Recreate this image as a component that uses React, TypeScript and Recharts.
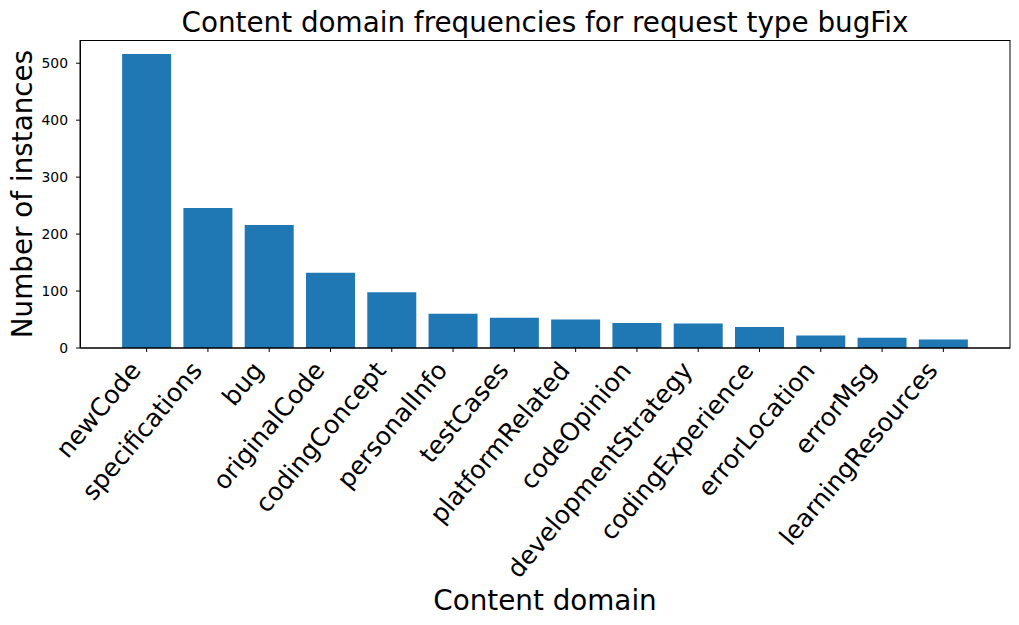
import React from 'react';
import { BarChart, Bar, XAxis, YAxis } from 'recharts';

const categories = [
  'newCode', 'specifications', 'bug', 'originalCode', 'codingConcept', 'personalInfo', 'testCases',
  'platformRelated', 'codeOpinion', 'developmentStrategy', 'codingExperience', 'errorLocation',
  'errorMsg', 'learningResources',
];
const counts = [516, 246, 216, 132, 98, 60, 53, 50, 44, 43, 37, 22, 18, 15];
const yTicks = [0, 100, 200, 300, 400, 500];

const data = categories.map((name, i) => ({ name, value: counts[i] }));

const FONT = '"DejaVu Sans", sans-serif';
const BLUE = '#1f77b4';

// plot box (matches margins below)
const PLOT = { x: 80, y: 40, w: 930, h: 308 };

// rotated tick label, right edge aligned to the tick like matplotlib ha='right'
const XTick = (props: any) => {
  const { x, y, payload } = props;
  const bx = x - 4.5;
  const by = y + 17;
  return (
    <text
      x={bx}
      y={by}
      transform={`rotate(-50, ${bx}, ${by})`}
      textAnchor="end"
      fontSize={25}
      fontFamily={FONT}
      fill="#000"
    >
      {payload.value}
    </text>
  );
};

const YLabel = (props: any) => {
  const vb = props.viewBox || { x: 0, y: 40, width: 80, height: 308 };
  const cx = vb.x + 32;
  const cy = vb.y + vb.height / 2;
  return (
    <text x={cx} y={cy} transform={`rotate(-90, ${cx}, ${cy})`} textAnchor="middle"
      fontSize={27.8} fontFamily={FONT} fill="#000">
      Number of instances
    </text>
  );
};

export default function App() {
  return (
    <div style={{ position: 'absolute', left: 0, top: 0, width: 1019, height: 625, background: '#fff' }}>
      <BarChart
        width={1019}
        height={625}
        data={data}
        margin={{ top: PLOT.y, right: 1019 - PLOT.x - PLOT.w, left: 0, bottom: 0 }}
        barCategoryGap="10%"
      >
        <XAxis
          dataKey="name"
          interval={0}
          height={625 - PLOT.y - PLOT.h}
          padding={{ left: 36, right: 36 }}
          tick={<XTick />}
          tickSize={4}
          axisLine={{ stroke: '#000', strokeWidth: 1 }}
          tickLine={{ stroke: '#000' }}
        />
        <YAxis
          domain={[0, 540.75]}
          ticks={yTicks}
          allowDataOverflow
          width={PLOT.x}
          tickSize={4}
          tickMargin={8}
          tick={{ fontSize: 13.9, fontFamily: FONT, fill: '#000' }}
          axisLine={{ stroke: '#000', strokeWidth: 1 }}
          tickLine={{ stroke: '#000' }}
          label={<YLabel />}
        />
        <Bar dataKey="value" fill={BLUE} isAnimationActive={false} />
      </BarChart>
      <svg width={1019} height={625} style={{ position: 'absolute', left: 0, top: 0, pointerEvents: 'none' }}>
        <rect x={PLOT.x + 0.5} y={PLOT.y + 0.5} width={PLOT.w - 0.5} height={PLOT.h - 0.5}
          fill="none" stroke="#000" strokeWidth={1} />
        <text x={PLOT.x + PLOT.w / 2} y={31.7} textAnchor="middle" fontSize={27.8} fontFamily={FONT} fill="#000">
          Content domain frequencies for request type bugFix
        </text>
        <text x={PLOT.x + PLOT.w / 2} y={610} textAnchor="middle" fontSize={27.8} fontFamily={FONT} fill="#000">
          Content domain
        </text>
      </svg>
    </div>
  );
}
